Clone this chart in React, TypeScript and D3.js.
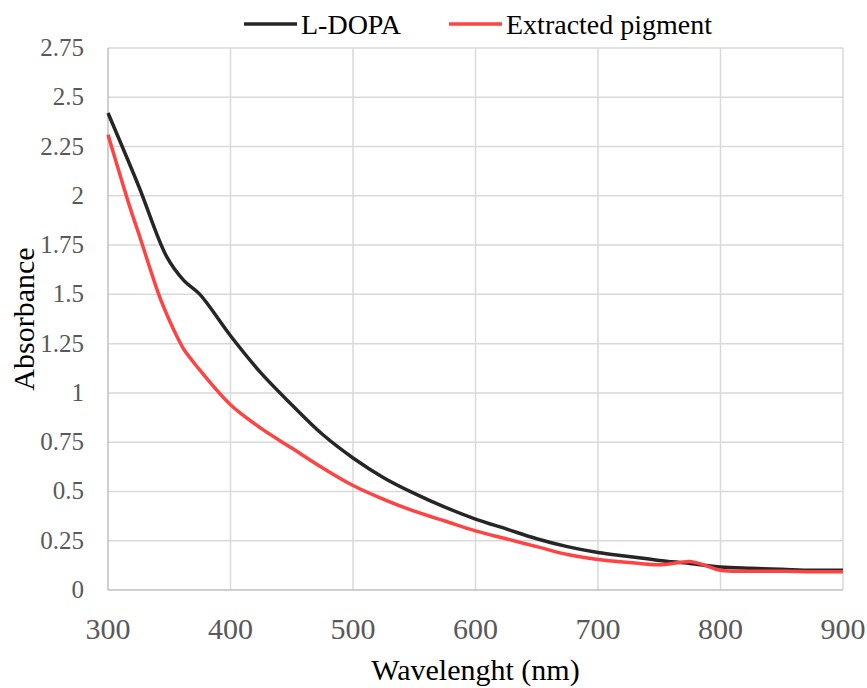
import React, { useRef, useEffect } from 'react';
import * as d3 from 'd3';

// wavelength (nm) / absorbance
const ldopaX = [300, 325, 348, 362, 375, 400, 425, 450, 475, 500, 525, 550, 575, 600, 625, 650, 675, 700, 725, 750, 775, 800, 825, 850, 875, 900];
const ldopaY = [2.42, 2.05, 1.69, 1.57, 1.5, 1.29, 1.1, 0.94, 0.79, 0.67, 0.57, 0.49, 0.42, 0.36, 0.31, 0.26, 0.22, 0.19, 0.17, 0.15, 0.135, 0.117, 0.11, 0.105, 0.1, 0.1];

const pigmentX = [300, 318, 325, 342, 350, 356, 362, 368, 375, 400, 425, 450, 475, 500, 525, 550, 575, 600, 625, 650, 675, 700, 725, 750, 765, 775, 785, 800, 825, 850, 875, 900];
const pigmentY = [2.31, 1.94, 1.81, 1.49, 1.37, 1.29, 1.22, 1.17, 1.115, 0.94, 0.82, 0.72, 0.62, 0.53, 0.46, 0.4, 0.35, 0.3, 0.26, 0.22, 0.18, 0.155, 0.14, 0.128, 0.138, 0.145, 0.13, 0.1, 0.095, 0.095, 0.093, 0.093];

const xTicks = [300, 400, 500, 600, 700, 800, 900];
const yTicks = [0, 0.25, 0.5, 0.75, 1, 1.25, 1.5, 1.75, 2, 2.25, 2.5, 2.75];

const W = 867, H = 688;
const margin = { top: 48, right: 24, bottom: 98, left: 108 };
const font = 'Liberation Serif';

const App = () => {
  const ref = useRef<SVGSVGElement>(null);

  useEffect(() => {
    const svg = d3.select(ref.current);
    svg.selectAll('*').remove();

    const x = d3.scaleLinear().domain([300, 900]).range([margin.left, W - margin.right]);
    const y = d3.scaleLinear().domain([0, 2.75]).range([H - margin.bottom, margin.top]);

    // grid
    svg.append('g').selectAll('line').data(yTicks.slice(1)).join('line')
      .attr('x1', margin.left).attr('x2', W - margin.right)
      .attr('y1', d => y(d)).attr('y2', d => y(d))
      .attr('stroke', '#d9d9d9').attr('stroke-width', 1.5);
    svg.append('g').selectAll('line').data(xTicks.slice(1)).join('line')
      .attr('x1', d => x(d)).attr('x2', d => x(d))
      .attr('y1', margin.top).attr('y2', H - margin.bottom)
      .attr('stroke', '#d9d9d9').attr('stroke-width', 1.5);

    // axes lines
    svg.append('line')
      .attr('x1', margin.left).attr('x2', margin.left)
      .attr('y1', margin.top).attr('y2', H - margin.bottom)
      .attr('stroke', '#bfbfbf').attr('stroke-width', 1.5);
    svg.append('line')
      .attr('x1', margin.left).attr('x2', W - margin.right)
      .attr('y1', H - margin.bottom).attr('y2', H - margin.bottom)
      .attr('stroke', '#bfbfbf').attr('stroke-width', 1.5);

    // tick labels
    svg.append('g').selectAll('text').data(yTicks).join('text')
      .attr('x', 84).attr('y', d => y(d) + 8)
      .attr('text-anchor', 'end')
      .style('font-family', font).style('font-size', '25px').attr('fill', '#595959')
      .text(d => String(d));
    svg.append('g').selectAll('text').data(xTicks).join('text')
      .attr('x', d => x(d)).attr('y', 639)
      .attr('text-anchor', 'middle')
      .style('font-family', font).style('font-size', '30px').attr('fill', '#595959')
      .text(d => String(d));

    // axis titles
    svg.append('text')
      .attr('transform', `translate(34, ${(margin.top + H - margin.bottom) / 2}) rotate(-90)`)
      .attr('text-anchor', 'middle')
      .style('font-family', font).style('font-size', '30px').attr('fill', '#000')
      .text('Absorbance');
    svg.append('text')
      .attr('x', (margin.left + W - margin.right) / 2).attr('y', 680)
      .attr('text-anchor', 'middle')
      .style('font-family', font).style('font-size', '30px').attr('fill', '#000')
      .text('Wavelenght (nm)');

    // series
    const line = d3.line<[number, number]>()
      .x(d => x(d[0])).y(d => y(d[1]))
      .curve(d3.curveCatmullRom.alpha(0.5));
    const series = [
      { name: 'L-DOPA', color: '#262626', pts: ldopaX.map((v, i) => [v, ldopaY[i]] as [number, number]) },
      { name: 'Extracted pigment', color: '#ff4343', pts: pigmentX.map((v, i) => [v, pigmentY[i]] as [number, number]) },
    ];
    series.forEach(s => {
      svg.append('path')
        .attr('d', line(s.pts))
        .attr('fill', 'none')
        .attr('stroke', s.color)
        .attr('stroke-width', 3.5)
        .attr('stroke-linejoin', 'round');
    });

    // legend
    const legX = [244, 449];
    series.forEach((s, i) => {
      const g = svg.append('g').attr('transform', `translate(${legX[i]}, 24)`);
      g.append('line').attr('x1', 0).attr('x2', 53).attr('y1', 0).attr('y2', 0)
        .attr('stroke', s.color).attr('stroke-width', 3.5);
      g.append('text').attr('x', 57).attr('y', 10)
        .style('font-family', font).style('font-size', '28px').attr('fill', '#000')
        .text(s.name);
    });
  }, []);

  return (
    <div style={{ position: 'absolute', left: 0, top: 0, background: '#fff' }}>
      <svg ref={ref} width={W} height={H} />
    </div>
  );
};

export default App;
